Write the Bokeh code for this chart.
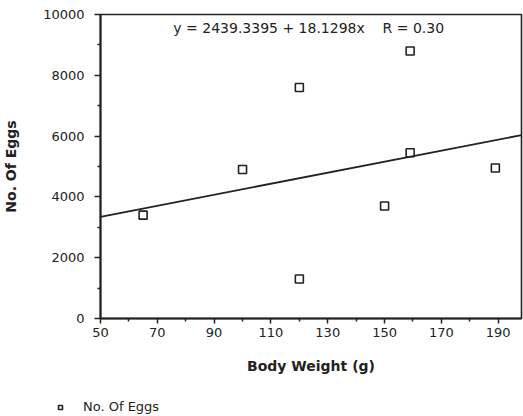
from bokeh.plotting import figure
from bokeh.layouts import column
from bokeh.models import FixedTicker, Label, Legend, LegendItem, Range1d, ColumnDataSource
from bokeh.embed import file_html
from bokeh.resources import INLINE

# Data
body_weight = [65, 100, 120, 120, 150, 159, 159, 189]
no_of_eggs = [3400, 4900, 7600, 1300, 3700, 8800, 5450, 4950]
series_name = "No. Of Eggs"

# Regression stated on the chart
intercept = 2439.3395
slope = 18.1298
r_value = 0.30

x_ticks = [50, 70, 90, 110, 130, 150, 170, 190]
x_minor = [60, 80, 100, 120, 140, 160, 180]
y_ticks = [0, 2000, 4000, 6000, 8000, 10000]
y_minor = [1000, 3000, 5000, 7000, 9000]

X_MIN, X_MAX = 50, 198.2
INK = "#222222"
MARKER = dict(marker="square", size=8, fill_color="white", line_color=INK, line_width=1.6)

p = figure(width=523, height=392, x_range=Range1d(X_MIN, X_MAX), y_range=Range1d(0, 10000),
           output_backend="svg", toolbar_location=None,
           min_border_left=100, min_border_right=2, min_border_top=14, min_border_bottom=74)
p.xgrid.visible = False
p.ygrid.visible = False
p.outline_line_color = INK
p.outline_line_width = 1.6
p.background_fill_color = "white"
p.border_fill_color = "white"
p.frame_align = False

src = ColumnDataSource(dict(x=body_weight, y=no_of_eggs))
pts = p.scatter("x", "y", source=src, **MARKER)

line_x = [X_MIN, X_MAX]
line_y = [intercept + slope * v for v in line_x]
p.line(line_x, line_y, line_color=INK, line_width=1.8)

for ax in (p.xaxis[0], p.yaxis[0]):
    ax.axis_line_color = INK
    ax.axis_line_width = 2
    ax.major_tick_line_color = INK
    ax.minor_tick_line_color = INK
    ax.major_tick_line_width = 1.5
    ax.minor_tick_line_width = 1.5
    ax.major_tick_in = 0
    ax.minor_tick_in = 0
    ax.major_label_text_font = "DejaVu Sans"
    ax.major_label_text_font_size = "13px"
    ax.major_label_text_color = INK
    ax.axis_label_text_font = "DejaVu Sans"
    ax.axis_label_text_font_size = "14px"
    ax.axis_label_text_font_style = "bold"
    ax.axis_label_text_color = INK

p.xaxis.ticker = FixedTicker(ticks=x_ticks, minor_ticks=x_minor)
p.yaxis.ticker = FixedTicker(ticks=y_ticks, minor_ticks=y_minor)
p.xaxis.major_tick_out = 5
p.xaxis.minor_tick_out = 3
p.yaxis.major_tick_out = 6
p.yaxis.minor_tick_out = 3
p.xaxis.major_label_standoff = 4
p.yaxis.major_label_standoff = 10
p.xaxis.axis_label = "Body Weight (g)"
p.yaxis.axis_label = "No. Of Eggs"
p.xaxis.axis_label_standoff = 18
p.yaxis.axis_label_standoff = 21

gap = "\u00a0\u00a0\u00a0 "
eq = Label(x=123.3, y=9560,
           text=f"y = {intercept:.4f} + {slope:.4f}x{gap}R = {r_value:.2f}",
           text_align="center", text_baseline="middle",
           text_font="DejaVu Sans", text_font_size="14px", text_color=INK)
p.add_layout(eq)

# Legend strip below the chart (its own small canvas; series points fall outside its range)
lf = figure(width=523, height=24, x_range=Range1d(0, 1), y_range=Range1d(0, 1),
            output_backend="svg", toolbar_location=None,
            x_axis_location=None, y_axis_location=None,
            min_border_left=0, min_border_right=0, min_border_top=0, min_border_bottom=0)
lf.frame_align = False
lf.xgrid.visible = False
lf.ygrid.visible = False
lf.outline_line_color = None
lf.background_fill_color = "white"
lf.border_fill_color = "white"
legend_r = lf.scatter("x", "y", source=src, **MARKER)

legend = Legend(items=[LegendItem(label=series_name, renderers=[legend_r])],
                location=(55, 2), padding=0, margin=0, glyph_width=10, glyph_height=10,
                label_height=14, label_standoff=18, border_line_alpha=0,
                background_fill_alpha=0, label_text_font="DejaVu Sans",
                label_text_font_size="13px", label_text_color=INK)
lf.add_layout(legend, "center")

layout = column(p, lf, spacing=0)
open("out.html", "w").write(file_html(layout, INLINE))
